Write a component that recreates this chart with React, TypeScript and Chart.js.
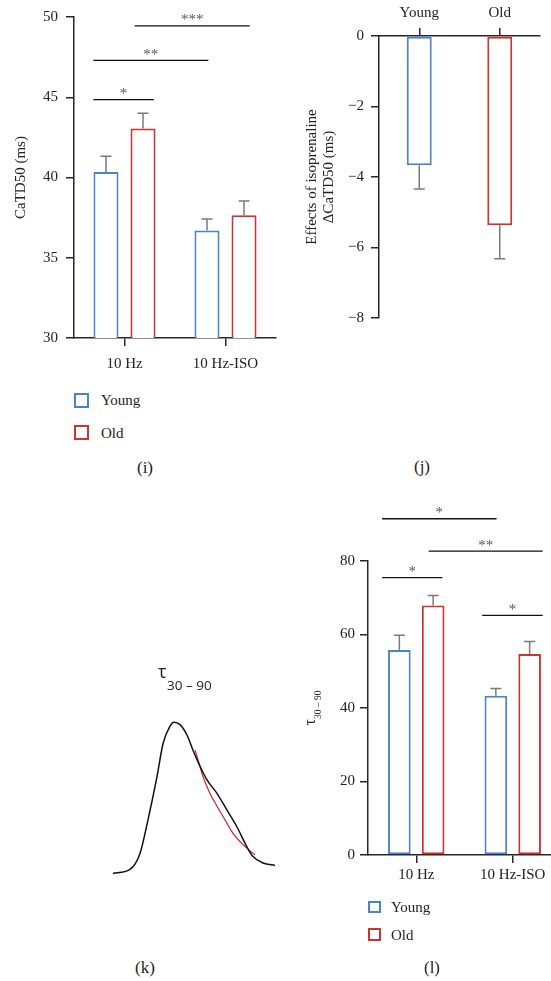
import React, { useEffect, useRef } from 'react';
import { Chart, registerables } from 'chart.js';

Chart.register(...registerables);

// ---------------- data ----------------
const groupLabels = ['10 Hz', '10 Hz-ISO'];
const ageLabels = ['Young', 'Old'];

// (i) CaTD50 (ms): mean and SEM
const catd50Young = [40.35, 36.7];
const catd50YoungSem = [0.97, 0.72];
const catd50Old = [43.05, 37.65];
const catd50OldSem = [0.95, 0.88];
const catd50Ticks = [30, 35, 40, 45, 50];
const catd50Sig = [
  { from: -0.31, to: 0.29, y: 44.85, text: '*' },
  { from: -0.31, to: 0.83, y: 47.3, text: '**' },
  { from: 0.1, to: 1.24, y: 49.45, text: '***' },
];

// (j) effect of isoprenaline, ΔCaTD50 (ms)
const isoEffect = [-3.67, -5.37];
const isoEffectSem = [0.67, 0.95];
const isoTicks = [-8, -6, -4, -2, 0];

// (k) example transient (normalised fluorescence) and decay fit
const traceTime = [3, 20, 30, 38, 47, 53, 60, 64, 70, 77, 83, 90, 97, 107, 117, 127, 137, 143, 153, 165];
const traceF = [0.01, 0.035, 0.135, 0.345, 0.615, 0.82, 0.93, 0.955, 0.94, 0.875, 0.78, 0.68, 0.595, 0.51, 0.405, 0.3, 0.175, 0.115, 0.075, 0.06];
const fitTime = [85, 88, 93, 100, 107, 115, 123, 133, 145];
const fitF = [0.78, 0.72, 0.615, 0.51, 0.43, 0.345, 0.26, 0.19, 0.125];

// (l) tau 30-90
const tauYoung = [55.8, 43.3];
const tauYoungSem = [4.0, 2.0];
const tauOld = [67.9, 54.7];
const tauOldSem = [2.7, 3.4];
const tauTicks = [0, 20, 40, 60, 80];
const tauSig = [
  { from: -0.354, to: 0.833, y: 91.5, text: '*' },
  { from: 0.128, to: 1.31, y: 82.7, text: '**' },
  { from: -0.354, to: 0.271, y: 75.5, text: '*' },
  { from: 0.683, to: 1.31, y: 65.2, text: '*' },
];

// ---------------- styles ----------------
const SERIF = '"Liberation Serif", "Times New Roman", serif';
const SANS = '"Open Sans", "Noto Sans", sans-serif';
const BLUE = '#4a84c4';
const RED = '#cc3333';
const AXIS = '#262626';
const TEXT = '#222222';
const ERR = '#7a7a7a';

Chart.defaults.font.family = SERIF;

type Sig = { from: number; to: number; y: number; text: string };

const errorBarPlugin = {
  id: 'errorBars',
  afterDatasetsDraw(chart: any) {
    const ctx = chart.ctx;
    const yScale = chart.scales.y;
    chart.data.datasets.forEach((ds: any, di: number) => {
      if (!ds.sem) return;
      const meta = chart.getDatasetMeta(di);
      meta.data.forEach((bar: any, i: number) => {
        const v = ds.data[i];
        const s = ds.sem[i];
        const end = v >= 0 ? v + s : v - s;
        const y1 = yScale.getPixelForValue(end);
        ctx.save();
        ctx.strokeStyle = ERR;
        ctx.lineWidth = 1.5;
        ctx.beginPath();
        ctx.moveTo(bar.x, bar.y);
        ctx.lineTo(bar.x, y1);
        ctx.moveTo(bar.x - 5.5, y1);
        ctx.lineTo(bar.x + 5.5, y1);
        ctx.stroke();
        ctx.restore();
      });
    });
  },
};

function makeSigPlugin(items: Sig[]) {
  return {
    id: 'sigLines',
    afterDraw(chart: any) {
      const ctx = chart.ctx;
      const xs = chart.scales.x;
      const ys = chart.scales.y;
      ctx.save();
      items.forEach((it) => {
        const x1 = xs.getPixelForValue(it.from);
        const x2 = xs.getPixelForValue(it.to);
        const y = ys.getPixelForValue(it.y);
        ctx.strokeStyle = '#111';
        ctx.lineWidth = 1.3;
        ctx.beginPath();
        ctx.moveTo(x1, y);
        ctx.lineTo(x2, y);
        ctx.stroke();
        ctx.fillStyle = '#555';
        ctx.font = `15px ${SERIF}`;
        ctx.textAlign = 'center';
        ctx.textBaseline = 'alphabetic';
        ctx.fillText(it.text, (x1 + x2) / 2, y - 1.5);
      });
      ctx.restore();
    },
  };
}

const tickFont = { family: SERIF, size: 15 };

function catX(height: number, padding: number, position = 'bottom') {
  return {
    position,
    grid: { display: true, drawOnChartArea: false, drawTicks: true, tickLength: 8, offset: false, color: AXIS, lineWidth: 1.5 },
    border: { display: true, color: AXIS, width: 1.5 },
    ticks: { font: tickFont, color: TEXT, padding, maxRotation: 0, autoSkip: false },
    afterFit: (s: any) => {
      s.height = height;
    },
  };
}

function valY(ticks: number[], width: number, padding: number, title?: any, fmt?: (v: number) => string) {
  return {
    min: ticks[0],
    max: ticks[ticks.length - 1],
    grid: { display: true, drawOnChartArea: false, drawTicks: true, tickLength: 8, color: AXIS, lineWidth: 1.5 },
    border: { display: true, color: AXIS, width: 1.5 },
    ticks: { font: tickFont, color: TEXT, padding, callback: (v: any) => (fmt ? fmt(Number(v)) : String(v)) },
    afterBuildTicks: (s: any) => {
      s.ticks = ticks.map((v) => ({ value: v }));
    },
    title: title || { display: false },
    afterFit: (s: any) => {
      s.width = width;
    },
  };
}

function pairDatasets(young: number[], youngSem: number[], old: number[], oldSem: number[], cat: number, bar: number) {
  const common = { backgroundColor: '#ffffff', borderWidth: 2, borderSkipped: false, categoryPercentage: cat, barPercentage: bar };
  return [
    { label: ageLabels[0], data: young, sem: youngSem, borderColor: BLUE, ...common },
    { label: ageLabels[1], data: old, sem: oldSem, borderColor: RED, ...common },
  ];
}

const noPlugins = { legend: { display: false }, tooltip: { enabled: false } };

function configI() {
  return {
    type: 'bar',
    data: { labels: groupLabels, datasets: pairDatasets(catd50Young, catd50YoungSem, catd50Old, catd50OldSem, 0.733, 0.676) },
    options: {
      animation: false,
      responsive: false,
      layout: { padding: { top: 17, right: 14, left: 0, bottom: 0 } },
      plugins: noPlugins,
      scales: {
        x: catX(42, 9),
        y: valY(catd50Ticks, 74, 8, {
          display: true,
          text: 'CaTD50 (ms)',
          color: TEXT,
          font: { family: SERIF, size: 15, lineHeight: 1.2 },
          padding: { top: 12, bottom: 0 },
        }),
      },
    },
    plugins: [errorBarPlugin, makeSigPlugin(catd50Sig)],
  };
}

function configJ() {
  return {
    type: 'bar',
    data: {
      labels: ageLabels,
      datasets: [
        {
          label: 'ΔCaTD50',
          data: isoEffect,
          sem: isoEffectSem,
          backgroundColor: '#ffffff',
          borderColor: [BLUE, RED],
          borderWidth: 2,
          borderSkipped: false,
          categoryPercentage: 1,
          barPercentage: 0.31,
        },
      ],
    },
    options: {
      animation: false,
      responsive: false,
      layout: { padding: { top: 0, right: 11, left: 0, bottom: 22 } },
      plugins: noPlugins,
      scales: {
        x: catX(36, 6, 'top'),
        y: valY(
          isoTicks,
          89,
          7,
          {
            display: true,
            text: ['Effects of isoprenaline', 'ΔCaTD50 (ms)'],
            color: TEXT,
            font: { family: SERIF, size: 15, lineHeight: 1.1 },
            padding: { top: 14, bottom: 0 },
          },
          (v) => String(v).replace('-', '\u2212')
        ),
      },
    },
    plugins: [errorBarPlugin],
  };
}

const traceTitlePlugin = {
  id: 'traceTitle',
  afterDraw(chart: any) {
    const ctx = chart.ctx;
    ctx.save();
    ctx.fillStyle = TEXT;
    ctx.textAlign = 'left';
    ctx.textBaseline = 'alphabetic';
    ctx.font = `18px ${SANS}`;
    const tw = ctx.measureText('τ').width;
    ctx.fillText('τ', 58, 38);
    ctx.font = `13.5px ${SANS}`;
    ctx.fillText('30 – 90', 58 + tw + 0.5, 50);
    ctx.restore();
  },
};

function configK() {
  return {
    type: 'line',
    data: {
      datasets: [
        {
          label: 'Transient',
          data: traceTime.map((t, i) => ({ x: t, y: traceF[i] })),
          borderColor: '#111111',
          borderWidth: 1.5,
          pointRadius: 0,
          cubicInterpolationMode: 'monotone',
          fill: false,
        },
        {
          label: 'Fit',
          data: fitTime.map((t, i) => ({ x: t, y: fitF[i] })),
          borderColor: '#cc2222',
          borderWidth: 1.2,
          pointRadius: 0,
          cubicInterpolationMode: 'monotone',
          fill: false,
        },
      ],
    },
    options: {
      animation: false,
      responsive: false,
      layout: { padding: 0 },
      plugins: noPlugins,
      scales: {
        x: { type: 'linear', display: false, min: -10, max: 180 },
        y: { type: 'linear', display: false, min: -0.09375, max: 1.46875 },
      },
    },
    plugins: [traceTitlePlugin],
  };
}

const tauAxisTitlePlugin = {
  id: 'tauAxisTitle',
  afterDraw(chart: any) {
    const ctx = chart.ctx;
    const area = chart.chartArea;
    ctx.save();
    ctx.translate(15, (area.top + area.bottom) / 2);
    ctx.rotate(-Math.PI / 2);
    ctx.fillStyle = TEXT;
    ctx.textAlign = 'left';
    ctx.textBaseline = 'alphabetic';
    ctx.font = `16px ${SERIF}`;
    const tw = ctx.measureText('τ').width;
    ctx.font = `9.5px ${SERIF}`;
    const sw = ctx.measureText('30 – 90').width;
    const x0 = -(tw + sw) / 2;
    ctx.font = `16px ${SERIF}`;
    ctx.fillText('τ', x0, 0);
    ctx.font = `9.5px ${SERIF}`;
    ctx.fillText('30 – 90', x0 + tw, 6);
    ctx.restore();
  },
};

function configL() {
  return {
    type: 'bar',
    data: { labels: groupLabels, datasets: pairDatasets(tauYoung, tauYoungSem, tauOld, tauOldSem, 0.7, 0.67) },
    options: {
      animation: false,
      responsive: false,
      layout: { padding: { top: 61, right: 0, left: 0, bottom: 0 } },
      plugins: noPlugins,
      scales: {
        x: catX(45, 3),
        y: valY(tauTicks, 68, 5),
      },
    },
    plugins: [errorBarPlugin, makeSigPlugin(tauSig), tauAxisTitlePlugin],
  };
}

// ---------------- components ----------------
function ChartBox(props: { make: () => any; left: number; top: number; width: number; height: number; viewWidth?: number }) {
  const ref = useRef<HTMLCanvasElement>(null);
  useEffect(() => {
    const chart = new Chart(ref.current as HTMLCanvasElement, props.make());
    return () => chart.destroy();
  }, []);
  return (
    <div
      style={{
        position: 'absolute',
        left: props.left,
        top: props.top,
        width: props.viewWidth ?? props.width,
        height: props.height,
        overflow: 'hidden',
      }}
    >
      <canvas ref={ref} width={props.width} height={props.height} style={{ display: 'block', width: props.width, height: props.height }} />
    </div>
  );
}

function LegendItem(props: { left: number; cy: number; box: number; color: string; text: string; textLeft: number }) {
  return (
    <>
      <div
        style={{
          position: 'absolute',
          left: props.left,
          top: props.cy - props.box / 2,
          width: props.box,
          height: props.box,
          border: `2px solid ${props.color}`,
          boxSizing: 'border-box',
          background: '#fff',
        }}
      />
      <div
        style={{
          position: 'absolute',
          left: props.textLeft,
          top: props.cy - 11,
          height: 22,
          lineHeight: '22px',
          fontFamily: SERIF,
          fontSize: 15,
          color: TEXT,
          whiteSpace: 'nowrap',
        }}
      >
        {props.text}
      </div>
    </>
  );
}

function Caption(props: { cx: number; cy: number; text: string }) {
  return (
    <div
      style={{
        position: 'absolute',
        left: props.cx - 30,
        width: 60,
        top: props.cy - 12,
        height: 24,
        lineHeight: '24px',
        textAlign: 'center',
        fontFamily: SERIF,
        fontSize: 17,
        color: TEXT,
      }}
    >
      {props.text}
    </div>
  );
}

export default function App() {
  return (
    <div>
      <ChartBox make={configI} left={0} top={0} width={290} height={380} />
      <ChartBox make={configJ} left={290} top={0} width={261} height={340} />
      <ChartBox make={configK} left={100} top={640} width={190} height={250} />
      <ChartBox make={configL} left={300} top={500} width={261} height={400} viewWidth={251} />

      <LegendItem left={74} cy={400} box={15} color={BLUE} text={ageLabels[0]} textLeft={101} />
      <LegendItem left={74} cy={432.5} box={15} color={RED} text={ageLabels[1]} textLeft={101} />
      <LegendItem left={368} cy={907} box={12.5} color={BLUE} text={ageLabels[0]} textLeft={391} />
      <LegendItem left={368} cy={934.5} box={12.5} color={RED} text={ageLabels[1]} textLeft={391} />

      <Caption cx={145} cy={468} text="(i)" />
      <Caption cx={422} cy={467} text="(j)" />
      <Caption cx={145} cy={968} text="(k)" />
      <Caption cx={432} cy={968} text="(l)" />
    </div>
  );
}
